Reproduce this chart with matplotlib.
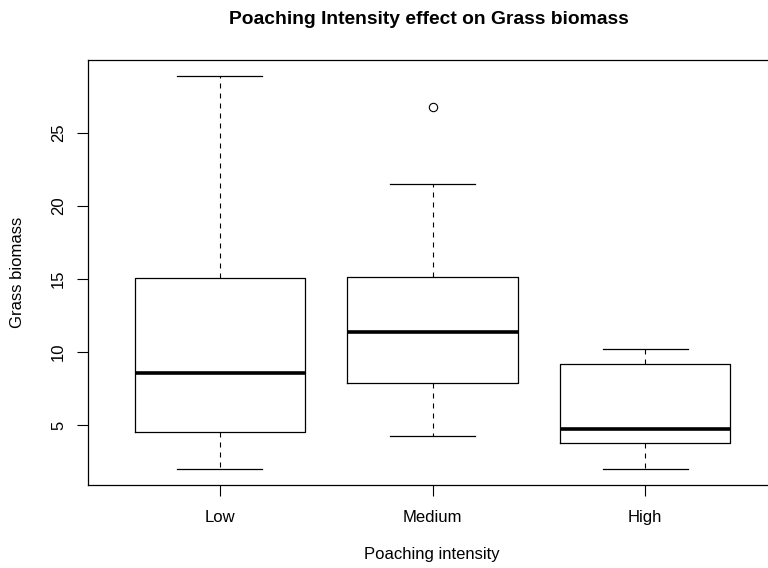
import matplotlib
matplotlib.use("Agg")
import matplotlib.pyplot as plt

# ---- data ----
categories = ["Low", "Medium", "High"]
whisker_low = [1.99, 4.25, 2.00]
q1 = [4.52, 7.90, 3.81]
median = [8.61, 11.35, 4.77]
q3 = [15.05, 15.16, 9.22]
whisker_high = [28.92, 21.49, 10.20]
outliers = [[], [26.8], []]
y_ticks = [5, 10, 15, 20, 25]

plt.rcParams['font.family'] = ['Liberation Sans', 'DejaVu Sans']

fig = plt.figure(figsize=(7.68, 5.68), dpi=100)
ax = fig.add_axes([88/768, 1-485/568, 689/768, 425/568])

stats = []
for i, c in enumerate(categories):
    stats.append(dict(label=c, med=median[i], q1=q1[i], q3=q3[i],
                      whislo=whisker_low[i], whishi=whisker_high[i],
                      fliers=outliers[i]))

positions = list(range(1, len(categories) + 1))
ax.bxp(stats, positions=positions, widths=0.8, showfliers=True,
       boxprops=dict(color='black', linewidth=0.9),
       medianprops=dict(color='black', linewidth=2.6, solid_capstyle='butt'),
       whiskerprops=dict(color='black', linewidth=0.8, linestyle=(0, (4.5, 4.5))),
       capprops=dict(color='black', linewidth=0.9),
       capwidths=0.4,
       flierprops=dict(marker='o', markerfacecolor='none', markeredgecolor='black',
                       markersize=6, markeredgewidth=0.8))

lo = min(whisker_low + [v for o in outliers for v in o])
hi = max(whisker_high + [v for o in outliers for v in o])
rng = hi - lo
ax.set_ylim(lo - 0.04 * rng, hi + 0.04 * rng)
n = len(categories)
ax.set_xlim(0.5 - 0.04 * n, n + 0.5 + 0.04 * n)

ax.set_yticks(y_ticks)
ax.set_yticklabels([str(t) for t in y_ticks], rotation=90, va='center')
ax.set_xticks(positions)
ax.set_xticklabels(categories)
ax.tick_params(axis='both', length=7.8, width=0.8, labelsize=12, color='black')
ax.tick_params(axis='y', pad=8)
ax.tick_params(axis='x', pad=10)
for s in ax.spines.values():
    s.set_linewidth(0.9)

fig.text(429/768, 1-19/568, "Poaching Intensity effect on Grass biomass",
         ha='center', va='center', fontsize=13.9, fontweight='bold')
fig.text(432/768, 1-554/568, "Poaching intensity", ha='center', va='center', fontsize=12)
fig.text(18/768, 1-272/568, "Grass biomass", ha='center', va='center', fontsize=12,
         rotation=90)

fig.savefig("out.png", dpi=100)
